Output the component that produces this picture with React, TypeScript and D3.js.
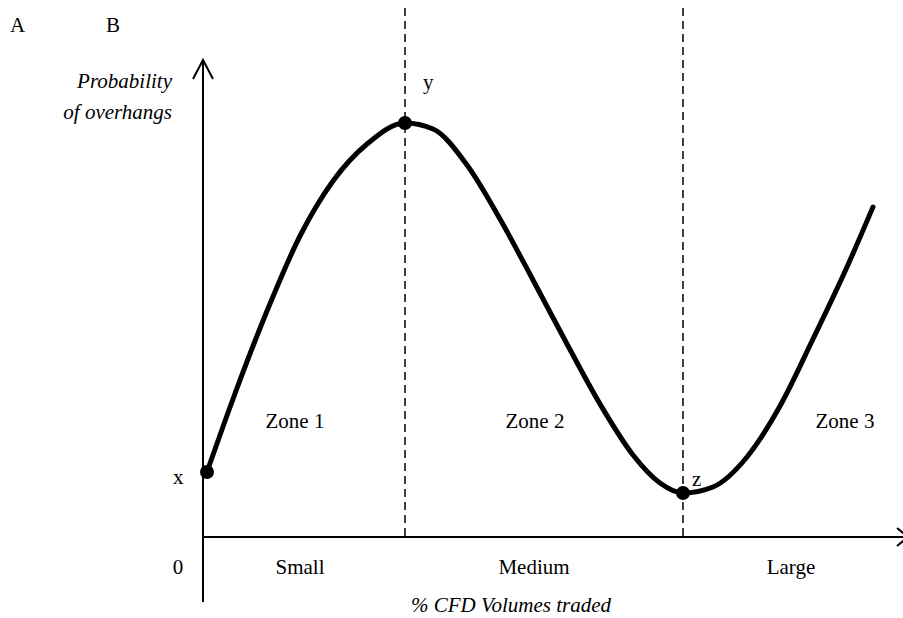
import React from 'react';
import * as d3 from 'd3';

// curve, in axis units (origin at the axes crossing)
const curveX = [4, 30, 64, 97, 130, 164, 202, 230, 264, 297, 330, 364, 397, 430, 457, 480, 510, 544, 577, 610, 644, 670];
const curveY = [65, 138, 226, 301, 356, 393, 414, 408, 372, 318, 257, 193, 133, 82, 54, 44, 50, 80, 131, 198, 270, 330];

const markerNames = ['x', 'y', 'z'];
const markerX = [4, 202, 480];
const markerY = [65, 414, 44];

const zoneNames = ['Zone 1', 'Zone 2', 'Zone 3'];
const zoneX = [92, 332, 642];
const zoneLabelY = 109;

const sizeNames = ['Small', 'Medium', 'Large'];
const sizeX = [97, 331, 588];

const boundaries = [202, 480];

export default function App() {
  const width = 903;
  const height = 618;
  const x = d3.scaleLinear().domain([0, 700]).range([203, 903]);
  const y = d3.scaleLinear().domain([0, 477]).range([537, 60]);

  const pts: [number, number][] = curveX.map((v, i) => [v, curveY[i]]);
  const line = d3.line<[number, number]>()
    .x(d => x(d[0]))
    .y(d => y(d[1]))
    .curve(d3.curveMonotoneX);

  const font = '"Liberation Serif", "Times New Roman", serif';
  const x0 = x(0);
  const y0 = y(0);

  return (
    <svg width={width} height={height} viewBox={`0 0 ${width} ${height}`}
      style={{ position: 'absolute', left: 0, top: 0, background: '#fff' }}
      fontFamily={font} fontSize={21} fill="#000">
      <text x={10} y={32}>A</text>
      <text x={106} y={32}>B</text>

      {/* y axis */}
      <line x1={x0} y1={y(477)} x2={x0} y2={602} stroke="#000" strokeWidth={2} />
      <polyline points={`${x0 - 10},${y(477) + 19} ${x0},${y(477)} ${x0 + 10},${y(477) + 19}`}
        fill="none" stroke="#000" strokeWidth={2} />
      {/* x axis */}
      <line x1={x0} y1={y0} x2={x(700)} y2={y0} stroke="#000" strokeWidth={2} />
      <polyline points={`${x(694)},${y0 - 9} ${x(705)},${y0} ${x(694)},${y0 + 9}`}
        fill="none" stroke="#000" strokeWidth={2} />

      {/* zone boundaries */}
      {boundaries.map((b, i) => (
        <line key={i} x1={x(b)} y1={8} x2={x(b)} y2={y0} stroke="#000"
          strokeWidth={1.5} strokeDasharray="8,5" />
      ))}

      <path d={line(pts) || ''} fill="none" stroke="#000" strokeWidth={5} strokeLinecap="round" />

      {markerNames.map((m, i) => (
        <circle key={m} cx={x(markerX[i])} cy={y(markerY[i])} r={7} fill="#000" />
      ))}
      <text x={x(markerX[0]) - 34} y={y(markerY[0]) + 12}>x</text>
      <text x={x(markerX[1]) + 18} y={y(markerY[1]) - 34}>y</text>
      <text x={x(markerX[2]) + 9} y={y(markerY[2]) - 7}>z</text>

      {zoneNames.map((z, i) => (
        <text key={z} x={x(zoneX[i])} y={y(zoneLabelY)} textAnchor="middle">{z}</text>
      ))}
      {sizeNames.map((s, i) => (
        <text key={s} x={x(sizeX[i])} y={574} textAnchor="middle">{s}</text>
      ))}
      <text x={178} y={574} textAnchor="middle">0</text>

      <text x={172} y={88} textAnchor="end" fontStyle="italic">Probability</text>
      <text x={172} y={119} textAnchor="end" fontStyle="italic">of overhangs</text>
      <text x={511} y={612} textAnchor="middle" fontStyle="italic">% CFD Volumes traded</text>
    </svg>
  );
}
